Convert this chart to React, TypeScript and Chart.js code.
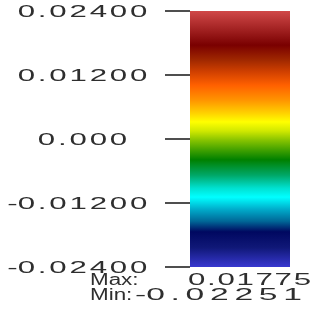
import React, { useEffect, useRef } from "react";
import { Chart, registerables } from "chart.js";

Chart.register(...registerables);

// Colour bar range and ticks
const rangeMin = -0.024;
const rangeMax = 0.024;
const tickValues = [0.024, 0.012, 0, -0.012, -0.024];
const tickLabels = ["0.02400", "0.01200", "0.000", "-0.01200", "-0.02400"];
const dataMax = "0.01775";
const dataMin = "-0.02251";

// Colour map: value -> colour
const colormapValues = [0.024, 0.0204, 0.0176, 0.0148, 0.0126, 0.0101, 0.0073, 0.0049, 0.0032, 0.0015, -0.0002, -0.0021, -0.0039, -0.0068, -0.0092, -0.0109, -0.0133, -0.0154, -0.0174, -0.0204, -0.024];
const colormapColors = ["#d04848", "#a02020", "#7a0000", "#a02800", "#d04000", "#ff6000", "#ff9400", "#ffd000", "#ffff00", "#d0e800", "#88c400", "#40a000", "#008000", "#00a868", "#00e0d0", "#00ffff", "#00a8c8", "#006898", "#000860", "#101878", "#3838d0"];

const FONT = '16px "Liberation Sans", Arial, sans-serif';

function drawSpaced(ctx: CanvasRenderingContext2D, text: string, x: number, y: number, sx: number, spacing: number, align: string) {
  ctx.font = FONT;
  const chars = text.split("");
  const widths = chars.map((c) => ctx.measureText(c).width * sx);
  const gaps = chars.map((c, i) => (i === chars.length - 1 || c === "-" ? 0 : spacing));
  const total = widths.reduce((a, b) => a + b, 0) + gaps.reduce((a, b) => a + b, 0);
  const lead = chars[0] === "-" ? widths[0] + gaps[0] : 0;
  let cx = align === "center" ? x - (total - lead) / 2 - lead : align === "right" ? x - total : x;
  chars.forEach((c, i) => {
    ctx.save();
    ctx.translate(cx, y);
    ctx.scale(sx, 1);
    ctx.textAlign = "left";
    ctx.textBaseline = "alphabetic";
    ctx.fillText(c, 0, 0);
    ctx.restore();
    cx += widths[i] + gaps[i];
  });
}

const labelPlugin = {
  id: "colorbarLabels",
  afterDraw(chart: any) {
    const ctx: CanvasRenderingContext2D = chart.ctx;
    const y = chart.scales.y;
    const area = chart.chartArea;
    ctx.save();
    ctx.strokeStyle = "#151515";
    ctx.lineWidth = 1.5;
    ctx.fillStyle = "#2e2e2e";
    tickValues.forEach((v, i) => {
      const py = y.getPixelForValue(v);
      ctx.beginPath();
      ctx.moveTo(area.left - 25, py);
      ctx.lineTo(area.left, py);
      ctx.stroke();
      drawSpaced(ctx, tickLabels[i], area.left - 107.5, py + 6, 1.95, 2.8, "center");
    });
    drawSpaced(ctx, "Max:", area.left - 100, area.bottom + 18, 1.4, 0, "left");
    drawSpaced(ctx, dataMax, area.left - 2, area.bottom + 18, 1.95, 1.7, "left");
    drawSpaced(ctx, "Min:", area.left - 100, area.bottom + 33, 1.4, 0, "left");
    drawSpaced(ctx, dataMin, area.left - 55, area.bottom + 33, 2.1, 5.7, "left");
    ctx.restore();
  },
};

export default function App() {
  const ref = useRef<HTMLCanvasElement | null>(null);
  useEffect(() => {
    if (!ref.current) return;
    const chart = new Chart(ref.current, {
      type: "bar",
      data: {
        labels: [""],
        datasets: [
          {
            data: [[rangeMin, rangeMax]] as any,
            barPercentage: 1,
            categoryPercentage: 1,
            borderWidth: 0,
            backgroundColor: (c: any) => {
              const ch = c.chart;
              const ys = ch.scales.y;
              if (!ch.chartArea || !ys) return "#888";
              const top = ys.getPixelForValue(rangeMax);
              const bottom = ys.getPixelForValue(rangeMin);
              const g = ch.ctx.createLinearGradient(0, top, 0, bottom);
              colormapValues.forEach((v, i) => {
                g.addColorStop((rangeMax - v) / (rangeMax - rangeMin), colormapColors[i]);
              });
              return g;
            },
          },
        ],
      },
      options: {
        responsive: false,
        animation: false,
        layout: { padding: { left: 190, right: 32, top: 11, bottom: 46 } },
        plugins: { legend: { display: false }, tooltip: { enabled: false } },
        scales: {
          x: { display: false },
          y: { display: false, min: rangeMin, max: rangeMax },
        },
      },
      plugins: [labelPlugin],
    });
    return () => chart.destroy();
  }, []);
  return (
    <div style={{ position: "absolute", left: 0, top: 0, width: 322, height: 313, background: "#fff" }}>
      <canvas ref={ref} width={322} height={313} />
    </div>
  );
}
